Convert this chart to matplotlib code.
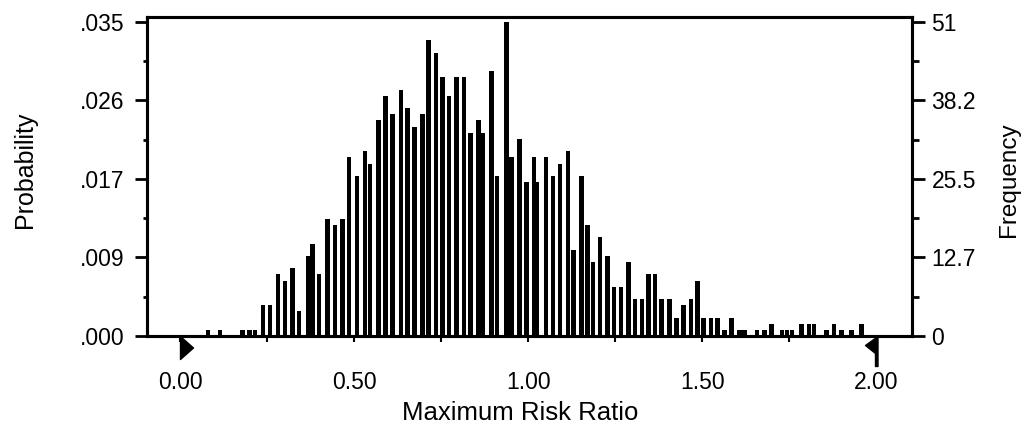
import matplotlib
matplotlib.use("Agg")
import matplotlib.pyplot as plt
from matplotlib.path import Path

plt.rcParams["font.family"] = ["Liberation Sans", "DejaVu Sans"]

# bin centres (Maximum Risk Ratio) and trial counts
ratio = [0.080, 0.115, 0.180, 0.200, 0.215,
         0.238, 0.259, 0.282, 0.302, 0.323, 0.342, 0.369, 0.381, 0.399, 0.423,
         0.445, 0.466, 0.486, 0.508, 0.532, 0.546, 0.570, 0.591, 0.611, 0.635,
         0.654, 0.673, 0.696, 0.714, 0.735, 0.754, 0.773, 0.795, 0.816, 0.835,
         0.857, 0.871, 0.895, 0.911, 0.938, 0.953, 0.975, 0.996, 1.017, 1.026,
         1.052, 1.071, 1.092, 1.114, 1.130, 1.154, 1.170, 1.186, 1.207, 1.228,
         1.247, 1.267, 1.288, 1.307, 1.327, 1.346, 1.365, 1.384, 1.406, 1.427,
         1.446, 1.468, 1.487, 1.504, 1.525, 1.544,
         1.565, 1.585, 1.608, 1.622, 1.658, 1.679, 1.700, 1.729, 1.744, 1.758,
         1.786, 1.807, 1.822, 1.858, 1.879, 1.900, 1.929, 1.958]
freq = [1, 1, 1, 1, 1,
        5, 5, 10, 9, 11, 4, 13, 15, 10, 19,
        18, 19, 29, 26, 30, 28, 35, 39, 36, 40,
        37, 34, 36, 48, 46, 42, 39, 42, 42, 33,
        35, 33, 43, 26, 51, 29, 32, 25, 29, 25,
        29, 26, 28, 30, 14, 26, 18, 12, 16, 13,
        8, 8, 12, 6, 6, 10, 10, 6, 6, 3,
        5, 6, 9, 3, 3, 3,
        1, 3, 1, 1, 1, 1, 2, 1, 1, 1,
        2, 2, 2, 1, 2, 1, 1, 2]

y_ticks = [0, 12.75, 25.5, 38.25, 51]
prob_labels = [".000", ".009", ".017", ".026", ".035"]
freq_labels = ["0", "12.7", "25.5", "38.2", "51"]
x_ticks = [0.0, 0.5, 1.0, 1.5, 2.0]
x_labels = ["0.00", "0.50", "1.00", "1.50", "2.00"]

W, H = 1033, 444
fig = plt.figure(figsize=(W / 100, H / 100), dpi=100)
ax = fig.add_axes([147 / W, 1 - 336 / H, (912 - 147) / W, (336 - 17) / H])

ax.bar(ratio, freq, width=0.013, color="black", linewidth=0)
ax.set_xlim(-0.095, 2.103)
ax.set_ylim(0, 51.8)

for s in ax.spines.values():
    s.set_linewidth(2.2)

minor_y = [(a + b) / 2 for a, b in zip(y_ticks[:-1], y_ticks[1:])]
ax.set_yticks(y_ticks, prob_labels)
ax.set_yticks(minor_y, minor=True)
ax.tick_params(axis="y", which="major", length=9, width=2, labelsize=16.5, pad=7)
ax.tick_params(axis="y", which="minor", length=3, width=2)

ax.set_xticks(x_ticks, x_labels)
ax.set_xticks([0.25, 0.75, 1.25, 1.75], minor=True)
ax.tick_params(axis="x", which="both", length=4, width=1.5, labelsize=16.5, pad=21)

ax.set_xlabel("Maximum Risk Ratio", fontsize=18.5)
ax.xaxis.set_label_coords(0.4876, -0.205)
ax.set_ylabel("Probability", fontsize=18)
ax.yaxis.set_label_coords(-0.144, 0.52)

ax2 = ax.twinx()
ax2.set_ylim(ax.get_ylim())
ax2.set_yticks(y_ticks, freq_labels)
ax2.set_yticks(minor_y, minor=True)
ax2.tick_params(axis="y", which="major", length=9, width=2, labelsize=16.5, pad=5)
ax2.tick_params(axis="y", which="minor", length=5, width=2)
ax2.set_ylabel("Frequency", fontsize=17.5)
ax2.yaxis.set_label_coords(1.113, 0.49)
for s in ax2.spines.values():
    s.set_linewidth(2.2)

# display-range grabbers under the axis
left_grab = Path([(0, 0), (0, -23), (13, -11.5), (0, 0)],
                 [Path.MOVETO, Path.LINETO, Path.LINETO, Path.CLOSEPOLY])
right_grab = Path([(1.5, 0), (-11, -9), (-1, -17), (-1, -30), (1.5, -30), (1.5, 0)],
                  [Path.MOVETO, Path.LINETO, Path.LINETO, Path.LINETO, Path.LINETO,
                   Path.CLOSEPOLY])
ax.plot([x_ticks[0]], [0], marker=left_grab, ms=46 / 1.389, color="black",
        clip_on=False, zorder=5)
ax.plot([x_ticks[-1]], [0], marker=right_grab, ms=60 / 1.389, color="black",
        clip_on=False, zorder=5)

fig.savefig("out.png", dpi=100)
